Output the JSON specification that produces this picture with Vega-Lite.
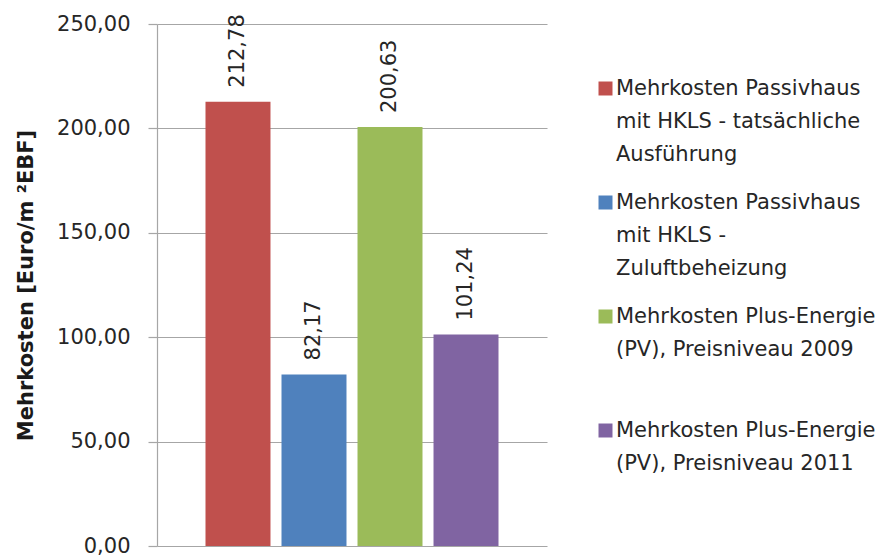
{
  "$schema": "https://vega.github.io/schema/vega-lite/v6.json",
  "width": 390,
  "height": 522,
  "autosize": {"type": "none"},
  "padding": {"left": 157, "top": 24, "right": 344, "bottom": 13},
  "background": "white",
  "data": {
    "values": [
      {"serie": "Mehrkosten Passivhaus mit HKLS - tatsächliche Ausführung", "wert": 212.78},
      {"serie": "Mehrkosten Passivhaus mit HKLS - Zuluftbeheizung", "wert": 82.17},
      {"serie": "Mehrkosten Plus-Energie (PV), Preisniveau 2009", "wert": 200.63},
      {"serie": "Mehrkosten Plus-Energie (PV), Preisniveau 2011", "wert": 101.24}
    ]
  },
  "encoding": {
    "x": {
      "field": "serie",
      "type": "nominal",
      "sort": null,
      "axis": null,
      "scale": {"paddingInner": 0.145, "paddingOuter": 0.638}
    },
    "y": {
      "field": "wert",
      "type": "quantitative",
      "scale": {"domain": [0, 250], "nice": false},
      "axis": {
        "title": "Mehrkosten [Euro/m ²EBF]",
        "values": [0, 50, 100, 150, 200, 250],
        "format": ".2f",
        "tickSize": 9,
        "labelPadding": 18,
        "titlePadding": 20
      }
    }
  },
  "layer": [
    {
      "mark": {"type": "bar"},
      "encoding": {
        "color": {
          "field": "serie",
          "type": "nominal",
          "sort": null,
          "scale": {
            "range": ["#C0504D", "#4F81BD", "#9BBB59", "#8064A2"]
          },
          "legend": {
            "title": null,
            "orient": "none",
            "legendX": 438,
            "legendY": 54,
            "symbolType": "square",
            "symbolSize": 196,
            "symbolStrokeWidth": 0,
            "labelOffset": 0,
            "labelLimit": 400,
            "labelBaseline": "top",
            "rowPadding": 26,
            "encoding": {
              "labels": {"dy": {"value": -11}}
            },
            "labelExpr": "datum.label == 'Mehrkosten Passivhaus mit HKLS - tatsächliche Ausführung' ? ['Mehrkosten Passivhaus', 'mit HKLS - tatsächliche', 'Ausführung'] : datum.label == 'Mehrkosten Passivhaus mit HKLS - Zuluftbeheizung' ? ['Mehrkosten Passivhaus', 'mit HKLS -', 'Zuluftbeheizung'] : datum.label == 'Mehrkosten Plus-Energie (PV), Preisniveau 2009' ? ['Mehrkosten Plus-Energie', '(PV), Preisniveau 2009', ' '] : ['Mehrkosten Plus-Energie', '(PV), Preisniveau 2011', ' ']"
          }
        }
      }
    },
    {
      "mark": {
        "type": "text",
        "angle": 270,
        "align": "left",
        "baseline": "middle",
        "dx": 14,
        "font": "DejaVu Sans",
        "fontSize": 21,
        "color": "#262626"
      },
      "encoding": {
        "text": {"field": "wert", "type": "quantitative", "format": ".2f"}
      }
    }
  ],
  "config": {
    "locale": {
      "number": {"decimal": ",", "thousands": ".", "grouping": [3], "currency": ["", " €"]}
    },
    "view": {"stroke": null},
    "style": {"guide-label": {"lineHeight": 33}},
    "axis": {
      "labelFont": "DejaVu Sans",
      "labelFontSize": 21,
      "labelColor": "#262626",
      "titleFont": "DejaVu Sans",
      "titleFontSize": 21,
      "titleFontWeight": "bold",
      "titleColor": "#1a1a1a",
      "gridColor": "#a6a6a6",
      "gridWidth": 1.2,
      "domainColor": "#a6a6a6",
      "domainWidth": 1.2,
      "tickColor": "#a6a6a6",
      "tickWidth": 1.2
    },
    "legend": {
      "labelFont": "DejaVu Sans",
      "labelFontSize": 21,
      "labelColor": "#262626"
    }
  }
}
